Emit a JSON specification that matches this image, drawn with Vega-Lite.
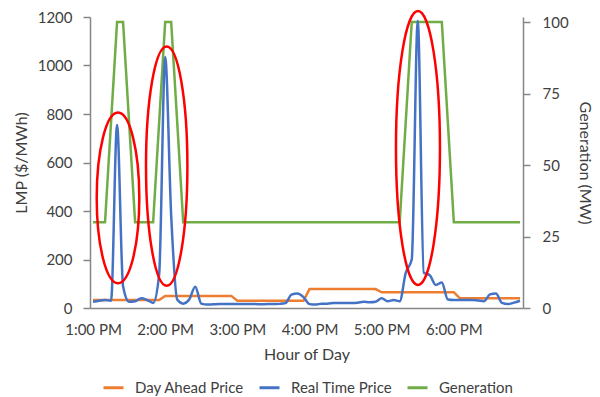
{
  "$schema": "https://vega.github.io/schema/vega-lite/v6.json",
  "width": 433,
  "height": 291,
  "autosize": "none",
  "padding": {"left": 90, "top": 17, "right": 77, "bottom": 89},
  "background": "white",
  "config": {
    "view": {"stroke": null},
    "font": "Lato",
    "axis": {
      "grid": false,
      "labelFont": "Lato",
      "titleFont": "Lato",
      "labelFontSize": 15,
      "titleFontSize": 16,
      "titleFontWeight": "normal",
      "labelColor": "#404040",
      "titleColor": "#404040",
      "domainColor": "#868686",
      "domainWidth": 1.5,
      "tickColor": "#868686",
      "tickWidth": 1.5
    },
    "legend": {
      "labelFont": "Lato",
      "labelFontSize": 15,
      "labelColor": "#404040",
      "symbolType": "stroke",
      "symbolSize": 400,
      "symbolStrokeWidth": 3,
      "labelOffset": 10,
      "columnPadding": 8,
      "padding": 0
    }
  },
  "datasets": {
    "series": [
      {"t": "2020-06-01T13:00:00", "da": 33, "rt": 26, "gen": 30},
      {"t": "2020-06-01T13:05:00", "da": 33, "rt": 30, "gen": 30},
      {"t": "2020-06-01T13:10:00", "da": 33, "rt": 33, "gen": 30},
      {"t": "2020-06-01T13:15:00", "da": 33, "rt": 30, "gen": 65},
      {"t": "2020-06-01T13:20:00", "da": 33, "rt": 755, "gen": 100},
      {"t": "2020-06-01T13:25:00", "da": 33, "rt": 90, "gen": 100},
      {"t": "2020-06-01T13:30:00", "da": 33, "rt": 26, "gen": 65},
      {"t": "2020-06-01T13:35:00", "da": 33, "rt": 28, "gen": 30},
      {"t": "2020-06-01T13:40:00", "da": 33, "rt": 40, "gen": 30},
      {"t": "2020-06-01T13:45:00", "da": 33, "rt": 33, "gen": 30},
      {"t": "2020-06-01T13:50:00", "da": 33, "rt": 21, "gen": 30},
      {"t": "2020-06-01T13:55:00", "da": 33, "rt": 140, "gen": 65},
      {"t": "2020-06-01T14:00:00", "da": 50, "rt": 1035, "gen": 100},
      {"t": "2020-06-01T14:05:00", "da": 50, "rt": 380, "gen": 100},
      {"t": "2020-06-01T14:10:00", "da": 50, "rt": 35, "gen": 65},
      {"t": "2020-06-01T14:15:00", "da": 50, "rt": 18, "gen": 30},
      {"t": "2020-06-01T14:20:00", "da": 50, "rt": 35, "gen": 30},
      {"t": "2020-06-01T14:25:00", "da": 50, "rt": 88, "gen": 30},
      {"t": "2020-06-01T14:30:00", "da": 50, "rt": 18, "gen": 30},
      {"t": "2020-06-01T14:35:00", "da": 50, "rt": 14, "gen": 30},
      {"t": "2020-06-01T14:40:00", "da": 50, "rt": 15, "gen": 30},
      {"t": "2020-06-01T14:45:00", "da": 50, "rt": 16, "gen": 30},
      {"t": "2020-06-01T14:50:00", "da": 50, "rt": 16, "gen": 30},
      {"t": "2020-06-01T14:55:00", "da": 50, "rt": 17, "gen": 30},
      {"t": "2020-06-01T15:00:00", "da": 30, "rt": 17, "gen": 30},
      {"t": "2020-06-01T15:05:00", "da": 30, "rt": 17, "gen": 30},
      {"t": "2020-06-01T15:10:00", "da": 30, "rt": 16, "gen": 30},
      {"t": "2020-06-01T15:15:00", "da": 30, "rt": 16, "gen": 30},
      {"t": "2020-06-01T15:20:00", "da": 30, "rt": 15, "gen": 30},
      {"t": "2020-06-01T15:25:00", "da": 30, "rt": 16, "gen": 30},
      {"t": "2020-06-01T15:30:00", "da": 30, "rt": 16, "gen": 30},
      {"t": "2020-06-01T15:35:00", "da": 30, "rt": 17, "gen": 30},
      {"t": "2020-06-01T15:40:00", "da": 30, "rt": 20, "gen": 30},
      {"t": "2020-06-01T15:45:00", "da": 30, "rt": 55, "gen": 30},
      {"t": "2020-06-01T15:50:00", "da": 30, "rt": 60, "gen": 30},
      {"t": "2020-06-01T15:55:00", "da": 30, "rt": 45, "gen": 30},
      {"t": "2020-06-01T16:00:00", "da": 78, "rt": 16, "gen": 30},
      {"t": "2020-06-01T16:05:00", "da": 78, "rt": 14, "gen": 30},
      {"t": "2020-06-01T16:10:00", "da": 78, "rt": 18, "gen": 30},
      {"t": "2020-06-01T16:15:00", "da": 78, "rt": 18, "gen": 30},
      {"t": "2020-06-01T16:20:00", "da": 78, "rt": 21, "gen": 30},
      {"t": "2020-06-01T16:25:00", "da": 78, "rt": 21, "gen": 30},
      {"t": "2020-06-01T16:30:00", "da": 78, "rt": 21, "gen": 30},
      {"t": "2020-06-01T16:35:00", "da": 78, "rt": 21, "gen": 30},
      {"t": "2020-06-01T16:40:00", "da": 78, "rt": 22, "gen": 30},
      {"t": "2020-06-01T16:45:00", "da": 78, "rt": 26, "gen": 30},
      {"t": "2020-06-01T16:50:00", "da": 78, "rt": 24, "gen": 30},
      {"t": "2020-06-01T16:55:00", "da": 78, "rt": 26, "gen": 30},
      {"t": "2020-06-01T17:00:00", "da": 65, "rt": 40, "gen": 30},
      {"t": "2020-06-01T17:05:00", "da": 65, "rt": 28, "gen": 30},
      {"t": "2020-06-01T17:10:00", "da": 65, "rt": 33, "gen": 30},
      {"t": "2020-06-01T17:15:00", "da": 65, "rt": 28, "gen": 30},
      {"t": "2020-06-01T17:20:00", "da": 65, "rt": 145, "gen": 65},
      {"t": "2020-06-01T17:25:00", "da": 65, "rt": 200, "gen": 100},
      {"t": "2020-06-01T17:30:00", "da": 65, "rt": 1185, "gen": 100},
      {"t": "2020-06-01T17:35:00", "da": 65, "rt": 145, "gen": 100},
      {"t": "2020-06-01T17:40:00", "da": 65, "rt": 135, "gen": 100},
      {"t": "2020-06-01T17:45:00", "da": 65, "rt": 95, "gen": 100},
      {"t": "2020-06-01T17:50:00", "da": 65, "rt": 105, "gen": 100},
      {"t": "2020-06-01T17:55:00", "da": 65, "rt": 35, "gen": 65},
      {"t": "2020-06-01T18:00:00", "da": 65, "rt": 33, "gen": 30},
      {"t": "2020-06-01T18:05:00", "da": 40, "rt": 33, "gen": 30},
      {"t": "2020-06-01T18:10:00", "da": 40, "rt": 33, "gen": 30},
      {"t": "2020-06-01T18:15:00", "da": 40, "rt": 33, "gen": 30},
      {"t": "2020-06-01T18:20:00", "da": 40, "rt": 31, "gen": 30},
      {"t": "2020-06-01T18:25:00", "da": 40, "rt": 28, "gen": 30},
      {"t": "2020-06-01T18:30:00", "da": 40, "rt": 56, "gen": 30},
      {"t": "2020-06-01T18:35:00", "da": 40, "rt": 60, "gen": 30},
      {"t": "2020-06-01T18:40:00", "da": 40, "rt": 21, "gen": 30},
      {"t": "2020-06-01T18:45:00", "da": 40, "rt": 16, "gen": 30},
      {"t": "2020-06-01T18:50:00", "da": 40, "rt": 22, "gen": 30},
      {"t": "2020-06-01T18:55:00", "da": 40, "rt": 30, "gen": 30}
    ],
    "marks": [
      {"t": "2020-06-01T13:20:47", "lmp": 454, "ellipse": "A"},
      {"t": "2020-06-01T14:01:16", "lmp": 585, "ellipse": "B"},
      {"t": "2020-06-01T17:30:10", "lmp": 660, "ellipse": "C"}
    ]
  },
  "data": {"name": "series"},
  "encoding": {
    "x": {
      "field": "t",
      "type": "temporal",
      "scale": {
        "domain": [
          {"year": 2020, "month": 6, "date": 1, "hours": 12, "minutes": 57, "seconds": 30},
          {"year": 2020, "month": 6, "date": 1, "hours": 18, "minutes": 57, "seconds": 30}
        ]
      },
      "axis": {
        "values": [
          {"year": 2020, "month": 6, "date": 1, "hours": 13},
          {"year": 2020, "month": 6, "date": 1, "hours": 14},
          {"year": 2020, "month": 6, "date": 1, "hours": 15},
          {"year": 2020, "month": 6, "date": 1, "hours": 16},
          {"year": 2020, "month": 6, "date": 1, "hours": 17},
          {"year": 2020, "month": 6, "date": 1, "hours": 18}
        ],
        "format": "%-I:%M %p",
        "ticks": false,
        "labelFlush": false,
        "labelOverlap": false,
        "labelPadding": 14,
        "title": "Hour of Day",
        "titlePadding": 9
      }
    }
  },
  "layer": [
    {
      "mark": {"type": "line", "strokeWidth": 2.5},
      "encoding": {
        "y": {
          "field": "gen",
          "type": "quantitative",
          "scale": {"domain": [0, 101.75], "nice": false, "zero": true},
          "axis": {
            "orient": "right",
            "values": [0, 25, 50, 75, 100],
            "format": "d",
            "tickSize": 7,
            "labelPadding": 12,
            "title": "Generation (MW)",
            "titlePadding": 8
          }
        },
        "color": {
          "datum": "Generation",
          "type": "nominal",
          "scale": {
            "domain": ["Day Ahead Price", "Real Time Price", "Generation"],
            "range": ["#ED7D31", "#4472C4", "#70AD47"]
          },
          "legend": {"orient": "none", "legendX": 12, "legendY": 359, "direction": "horizontal", "title": null}
        }
      }
    },
    {
      "layer": [
        {
          "mark": {"type": "line", "strokeWidth": 2.5},
          "encoding": {
            "y": {
              "field": "da",
              "type": "quantitative",
              "scale": {"domain": [0, 1200], "nice": false},
              "axis": {
                "orient": "left",
                "values": [0, 200, 400, 600, 800, 1000, 1200],
                "format": "d",
                "tickSize": 7,
                "labelPadding": 11,
                "title": "LMP ($/MWh)",
                "titlePadding": 8
              }
            },
            "color": {
              "datum": "Day Ahead Price",
              "type": "nominal",
              "scale": {
                "domain": ["Day Ahead Price", "Real Time Price", "Generation"],
                "range": ["#ED7D31", "#4472C4", "#70AD47"]
              },
              "legend": {"orient": "none", "legendX": 12, "legendY": 359, "direction": "horizontal", "title": null}
            }
          }
        },
        {
          "mark": {"type": "line", "strokeWidth": 2.5, "interpolate": "monotone"},
          "encoding": {
            "y": {
              "field": "rt",
              "type": "quantitative",
              "scale": {"domain": [0, 1200], "nice": false},
              "axis": {
                "orient": "left",
                "values": [0, 200, 400, 600, 800, 1000, 1200],
                "format": "d",
                "tickSize": 7,
                "labelPadding": 11,
                "title": "LMP ($/MWh)",
                "titlePadding": 8
              }
            },
            "color": {
              "datum": "Real Time Price",
              "type": "nominal",
              "scale": {
                "domain": ["Day Ahead Price", "Real Time Price", "Generation"],
                "range": ["#ED7D31", "#4472C4", "#70AD47"]
              },
              "legend": {"orient": "none", "legendX": 12, "legendY": 359, "direction": "horizontal", "title": null}
            }
          }
        },
        {
          "data": {"name": "marks"},
          "mark": {"type": "point", "filled": false, "color": "#FF0000", "strokeWidth": 2.5, "size": 40000, "opacity": 1},
          "encoding": {
            "y": {
              "field": "lmp",
              "type": "quantitative",
              "scale": {"domain": [0, 1200], "nice": false},
              "axis": {
                "orient": "left",
                "values": [0, 200, 400, 600, 800, 1000, 1200],
                "format": "d",
                "tickSize": 7,
                "labelPadding": 11,
                "title": "LMP ($/MWh)",
                "titlePadding": 8
              }
            },
            "shape": {
              "field": "ellipse",
              "type": "nominal",
              "scale": {
                "domain": ["A", "B", "C"],
                "range": [
                  "M0.213,0C0.213,0.4711 0.1176,0.853 0,0.853C-0.1176,0.853 -0.213,0.4711 -0.213,0C-0.213,-0.4711 -0.1176,-0.853 0,-0.853C0.1176,-0.853 0.213,-0.4711 0.213,0Z",
                  "M0.207,0C0.207,0.6611 0.1143,1.197 0,1.197C-0.1143,1.197 -0.207,0.6611 -0.207,0C-0.207,-0.6611 -0.1143,-1.197 0,-1.197C0.1143,-1.197 0.207,-0.6611 0.207,0Z",
                  "M0.22,0C0.22,0.7567 0.1215,1.37 0,1.37C-0.1215,1.37 -0.22,0.7567 -0.22,0C-0.22,-0.7567 -0.1215,-1.37 0,-1.37C0.1215,-1.37 0.22,-0.7567 0.22,0Z"
                ]
              },
              "legend": null
            }
          }
        }
      ]
    }
  ],
  "resolve": {"scale": {"y": "independent"}}
}
